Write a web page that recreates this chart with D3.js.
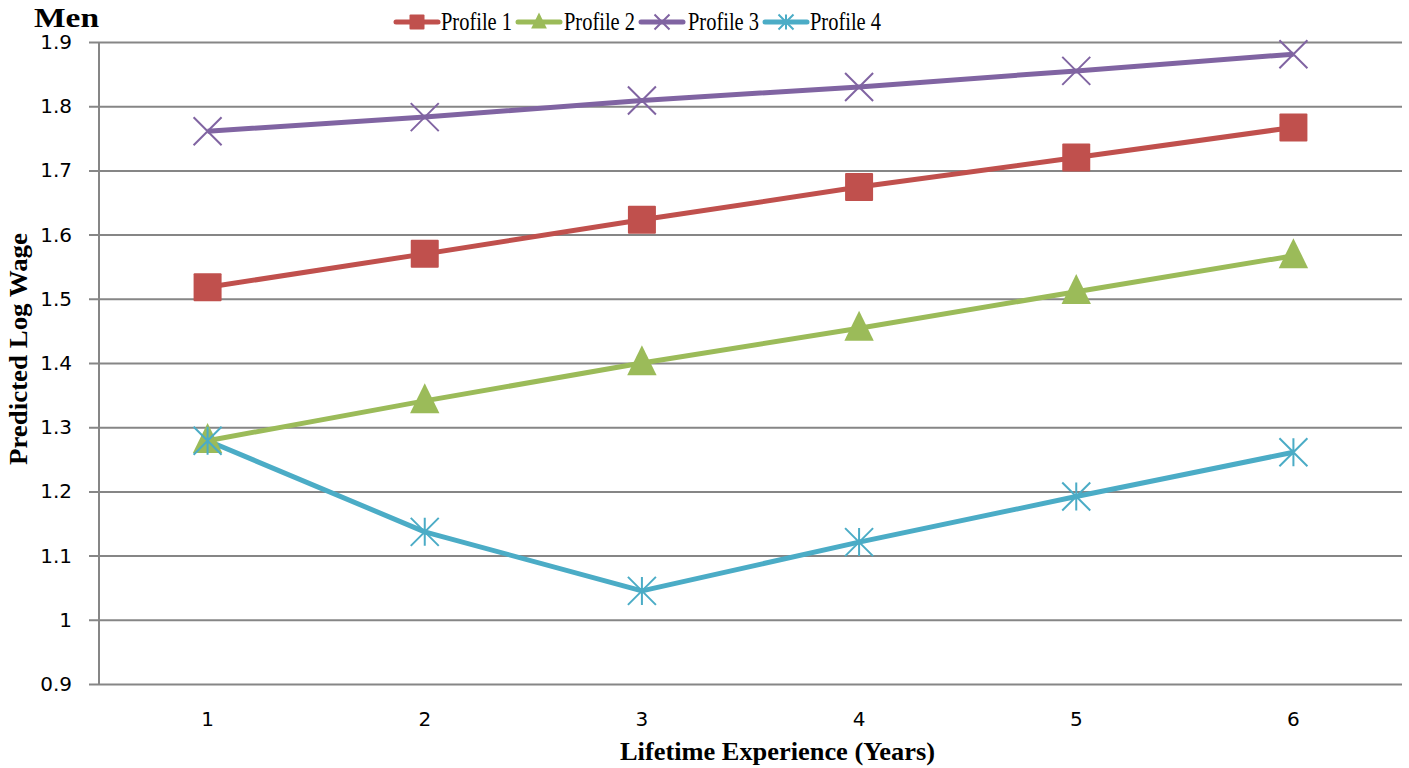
<!DOCTYPE html>
<html>
<head>
<meta charset="utf-8">
<script src="https://cdn.jsdelivr.net/npm/d3@7"></script>
<style>
  html, body { margin: 0; padding: 0; background: #fff; }
  svg { display: block; }
</style>
</head>
<body>
<svg id="chart" width="1409" height="768"></svg>
<script>
// Predicted log wage by years of lifetime experience, men
const years = [1, 2, 3, 4, 5, 6];
const profile1 = [1.518, 1.570, 1.623, 1.674, 1.720, 1.767];
const profile2 = [1.279, 1.341, 1.400, 1.454, 1.511, 1.567];
const profile3 = [1.761, 1.783, 1.809, 1.830, 1.855, 1.881];
const profile4 = [1.279, 1.137, 1.045, 1.121, 1.192, 1.261];
const seriesNames = ["Profile 1", "Profile 2", "Profile 3", "Profile 4"];
const seriesColors = ["#C0504D", "#9BBB59", "#8064A2", "#4BACC6"];
const seriesMarkers = ["square", "triangle", "cross", "star"];
const yTicks = [0.9, 1, 1.1, 1.2, 1.3, 1.4, 1.5, 1.6, 1.7, 1.8, 1.9];

const series = [profile1, profile2, profile3, profile4].map((vals, i) => ({
  name: seriesNames[i], color: seriesColors[i], marker: seriesMarkers[i],
  values: vals.map((v, j) => ({ x: years[j], y: v }))
}));

const svg = d3.select("#chart");
const margin = { left: 99, right: 7, top: 42, bottom: 84 };
const W = 1409, H = 768;
const serif = "Liberation Serif, Times New Roman, serif";
const sans = "DejaVu Sans, sans-serif";

const x = d3.scaleBand().domain(years).range([margin.left, W - margin.right]);
const y = d3.scaleLinear().domain([0.9, 1.9]).range([H - margin.bottom, margin.top]);
const cx = d => x(d) + x.bandwidth() / 2;

// horizontal gridlines with short outer ticks
const yAxis = d3.axisLeft(y).tickValues(yTicks).tickFormat(d => d === 1 ? "1" : d3.format(".1f")(d))
  .tickSize(-(W - margin.right - margin.left));
const gy = svg.append("g").attr("transform", `translate(${margin.left},0)`).call(yAxis);
gy.select(".domain").remove();
gy.selectAll(".tick line").attr("stroke", "#868686").attr("stroke-width", 2).attr("x1", -10);
gy.selectAll(".tick text").attr("font-family", sans).attr("font-size", 20)
  .attr("fill", "#000").attr("x", -27);

// vertical axis line
svg.append("line").attr("x1", margin.left).attr("x2", margin.left)
  .attr("y1", y(1.9)).attr("y2", y(0.9)).attr("stroke", "#868686").attr("stroke-width", 2);

// category labels
const xAxis = d3.axisBottom(x).tickSize(0).tickPadding(28);
const gx = svg.append("g").attr("transform", `translate(0,${y(0.9)})`).call(xAxis);
gx.select(".domain").remove();
gx.selectAll(".tick text").attr("font-family", sans).attr("font-size", 20).attr("fill", "#000");

// line paths
const line = d3.line().x(d => cx(d.x)).y(d => y(d.y));
series.forEach(s => {
  svg.append("path").datum(s.values).attr("d", line)
    .attr("fill", "none").attr("stroke", s.color).attr("stroke-width", 5)
    .attr("stroke-linejoin", "round");
});

// marker shapes
function drawMarker(g, type, color, px, py, size) {
  const h = size / 2;
  if (type === "square") {
    g.append("rect").attr("x", px - h).attr("y", py - h).attr("width", size).attr("height", size)
      .attr("fill", color).attr("rx", 1);
  } else if (type === "triangle") {
    const t = size * 1.05;
    g.append("path").attr("d", `M${px},${py - t * 0.6} L${px + t / 2},${py + t * 0.42} L${px - t / 2},${py + t * 0.42} Z`)
      .attr("fill", color);
  } else if (type === "cross") {
    g.append("path").attr("d", `M${px - h},${py - h} L${px + h},${py + h} M${px - h},${py + h} L${px + h},${py - h}`)
      .attr("stroke", color).attr("stroke-width", 2).attr("fill", "none");
  } else if (type === "star") {
    g.append("path").attr("d", `M${px - h},${py - h} L${px + h},${py + h} M${px - h},${py + h} L${px + h},${py - h} M${px},${py - h} L${px},${py + h}`)
      .attr("stroke", color).attr("stroke-width", 2).attr("fill", "none");
  }
}

series.forEach(s => {
  const g = svg.append("g");
  s.values.forEach(d => drawMarker(g, s.marker, s.color, cx(d.x), y(d.y), 28));
});

// legend
const legendItems = [
  { x0: 396, tx: 441 }, { x0: 518, tx: 564 }, { x0: 641, tx: 688 }, { x0: 765, tx: 810 }
];
const legendY = 22;
series.forEach((s, i) => {
  const li = legendItems[i];
  const g = svg.append("g");
  g.append("line").attr("x1", li.x0).attr("x2", li.x0 + 42).attr("y1", legendY).attr("y2", legendY)
    .attr("stroke", s.color).attr("stroke-width", 5).attr("stroke-linecap", "round");
  drawMarker(g, s.marker, s.color, li.x0 + 21, legendY, 15);
  g.append("text").attr("x", li.tx).attr("y", legendY + 8)
    .attr("font-family", serif).attr("font-size", 25)
    .attr("textLength", 71).attr("lengthAdjust", "spacingAndGlyphs")
    .attr("fill", "#000").text(s.name);
});

// titles
svg.append("text").attr("x", 34).attr("y", 27)
  .attr("font-family", serif).attr("font-size", 28)
  .attr("textLength", 65).attr("lengthAdjust", "spacingAndGlyphs")
  .attr("font-weight", "bold").attr("fill", "#000").text("Men");

svg.append("text").attr("x", 620).attr("y", 760)
  .attr("font-family", serif).attr("font-size", 25)
  .attr("textLength", 315).attr("lengthAdjust", "spacingAndGlyphs")
  .attr("font-weight", "bold").attr("fill", "#000").text("Lifetime Experience (Years)");

svg.append("text").attr("transform", "translate(27,465) rotate(-90)")
  .attr("font-family", serif).attr("font-size", 25)
  .attr("textLength", 232).attr("lengthAdjust", "spacingAndGlyphs")
  .attr("font-weight", "bold").attr("fill", "#000").text("Predicted Log Wage");
</script>
</body>
</html>
